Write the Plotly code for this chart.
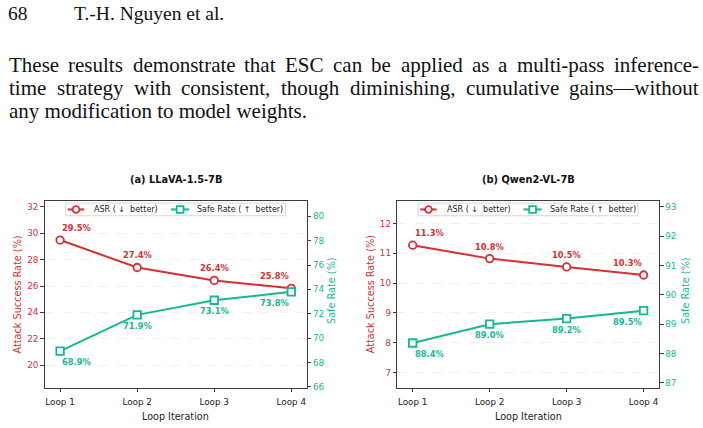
import plotly.graph_objects as go

# ---------------- data ----------------
loops = ["Loop 1", "Loop 2", "Loop 3", "Loop 4"]
llava_asr = [29.49, 27.41, 26.43, 25.83]
llava_safe = [68.93, 71.91, 73.11, 73.80]
qwen_asr = [11.27, 10.82, 10.54, 10.27]
qwen_safe = [88.36, 89.00, 89.19, 89.46]
llava_left_ticks = [20, 22, 24, 26, 28, 30, 32]
llava_right_ticks = [66, 68, 70, 72, 74, 76, 78, 80]
qwen_left_ticks = [7, 8, 9, 10, 11, 12]
qwen_right_ticks = [87, 88, 89, 90, 91, 92, 93]
panel_titles = ["(a) LLaVA-1.5-7B", "(b) Qwen2-VL-7B"]
series_names = ["ASR ( \u2193  better)", "Safe Rate ( \u2191  better)"]
page_lines = [
    "These results demonstrate that ESC can be applied as a multi-pass inference-",
    "time strategy with consistent, though diminishing, cumulative gains\u2014without",
    "any modification to model weights.",
]

# ---------------- style ----------------
W, H = 703, 428
RED = "#d62f34"
TEAL = "#14b894"
SPINE = "#3c3c3c"
SANS = "DejaVu Sans"
SERIF = "Liberation Serif"

# approximate Times/Liberation Serif advance widths (per 1000 em) for justification
TW = {' ': 250, 'T': 611, 'h': 500, 'e': 444, 's': 389, 'r': 333, 'u': 500, 'l': 278, 't': 278,
      'd': 500, 'm': 778, 'o': 500, 'n': 500, 'a': 444, 'E': 611, 'S': 556, 'C': 667, 'c': 444,
      'b': 500, 'p': 500, 'i': 278, '-': 333, 'y': 500, 'g': 500, 'w': 722, ',': 250, 'f': 333,
      '\u2014': 1000, '.': 250, 'v': 500, 'k': 500}


def px(x):
    return x / W


def py(y):
    return 1 - y / H


fig = go.Figure()

panels = [
    dict(xa="x", ya="y", ya2="y2", asr=llava_asr, safe=llava_safe,
         lt=llava_left_ticks, rt=llava_right_ticks,
         lrange=[18.29, 32.47], rrange=[65.94, 81.27],
         dom=[44.7, 306.7]),
    dict(xa="x2", ya="y3", ya2="y4", asr=qwen_asr, safe=qwen_safe,
         lt=qwen_left_ticks, rt=qwen_right_ticks,
         lrange=[6.49, 12.76], rrange=[86.84, 93.2],
         dom=[397.3, 659.0]),
]

ydom = [py(391.3), py(202.7)]
anns = []
shapes = []

for i, p in enumerate(panels):
    fig.add_trace(go.Scatter(
        x=loops, y=p["asr"], mode="lines+markers", name=series_names[0],
        line=dict(color=RED, width=2),
        marker=dict(symbol="circle", size=7.5, color="white", line=dict(color=RED, width=1.8)),
        xaxis=p["xa"], yaxis=p["ya"], showlegend=False))
    fig.add_trace(go.Scatter(
        x=loops, y=p["safe"], mode="lines+markers", name=series_names[1],
        line=dict(color=TEAL, width=2),
        marker=dict(symbol="square", size=7.5, color="white", line=dict(color=TEAL, width=1.8)),
        xaxis=p["xa"], yaxis=p["ya2"], showlegend=False))

    n = len(loops)
    for j, (cat, a, s) in enumerate(zip(loops, p["asr"], p["safe"])):
        anchor = "left" if j == 0 else ("right" if j == n - 1 else "center")
        anns.append(dict(x=cat, y=a, xref=p["xa"], yref=p["ya"], text=f"<b>{a:.1f}%</b>",
                         showarrow=False, xanchor=anchor, yanchor="middle", yshift=12,
                         font=dict(family=SANS, size=8.3, color=RED)))
        anns.append(dict(x=cat, y=s, xref=p["xa"], yref=p["ya2"], text=f"<b>{s:.1f}%</b>",
                         showarrow=False, xanchor=anchor, yanchor="middle", yshift=-11,
                         font=dict(family=SANS, size=8.3, color=TEAL)))

    xkey = "xaxis" if i == 0 else "xaxis2"
    ykey = "yaxis" if i == 0 else "yaxis3"
    y2key = "yaxis2" if i == 0 else "yaxis4"
    fig.layout[xkey] = dict(
        domain=[px(p["dom"][0]), px(p["dom"][1])], anchor=p["ya"], type="category", range=[-0.2, 3.2],
        showline=True, linecolor=SPINE, linewidth=1, mirror=True,
        ticks="outside", ticklen=3.5, tickcolor=SPINE, tickwidth=1, ticklabelstandoff=2,
        showgrid=False, zeroline=False,
        tickfont=dict(family=SANS, size=8.8, color="#222"))
    fig.layout[ykey] = dict(
        domain=ydom, anchor=p["xa"], range=p["lrange"], tickvals=p["lt"],
        showline=True, linecolor=SPINE, linewidth=1,
        ticks="outside", ticklen=3.5, tickcolor=SPINE, tickwidth=1,
        showgrid=True, gridcolor="#f0f0f0", gridwidth=0.8, griddash="dash",
        zeroline=False, tickfont=dict(family=SANS, size=8.8, color=RED))
    fig.layout[y2key] = dict(
        overlaying=p["ya"], side="right", anchor=p["xa"], range=p["rrange"], tickvals=p["rt"],
        showline=True, linecolor=SPINE, linewidth=1,
        ticks="outside", ticklen=3.5, tickcolor=SPINE, tickwidth=1,
        showgrid=False, zeroline=False, tickfont=dict(family=SANS, size=8.8, color=TEAL))

    cxp = (p["dom"][0] + p["dom"][1]) / 2
    anns.append(dict(x=px(cxp), y=py(181.5), xref="paper", yref="paper", text=f"<b>{panel_titles[i]}</b>",
                     showarrow=False, xanchor="center", yanchor="middle",
                     font=dict(family=SANS, size=9.8, color="#111")))
    anns.append(dict(x=px(cxp), y=py(420), xref="paper", yref="paper", text="Loop Iteration",
                     showarrow=False, xanchor="center", yanchor="middle",
                     font=dict(family=SANS, size=9.6, color="#222")))

    # ---- legend box (drawn in paper space, centred on the panel) ----
    ly0, ly1, lyc = 205.0, 217.8, 211.4
    shapes.append(dict(type="rect", xref="paper", yref="paper",
                       x0=px(cxp - 110), x1=px(cxp + 110), y0=py(ly1), y1=py(ly0),
                       line=dict(color="#d6d6d6", width=1), fillcolor="rgba(255,255,255,0.92)",
                       layer="above"))
    for (l0, l1, mc, col, sym, tx, name) in [(-108, -91.5, -99.7, RED, "circle", -83.5, series_names[0]),
                                             (-4.7, 13.6, 4.4, TEAL, "rect", 19.6, series_names[1])]:
        shapes.append(dict(type="line", xref="paper", yref="paper",
                           x0=px(cxp + l0), x1=px(cxp + l1), y0=py(lyc), y1=py(lyc),
                           line=dict(color=col, width=2), layer="above"))
        r = 3.4
        shapes.append(dict(type=sym, xref="paper", yref="paper",
                           x0=px(cxp + mc - r), x1=px(cxp + mc + r), y0=py(lyc + r), y1=py(lyc - r),
                           line=dict(color=col, width=1.8), fillcolor="white", layer="above"))
        anns.append(dict(x=px(cxp + tx), y=py(lyc), xref="paper", yref="paper", text=name,
                         showarrow=False, xanchor="left", yanchor="middle",
                         font=dict(family=SANS, size=8, color="#222")))

# axis titles
cy = py(297)
anns += [
    dict(x=px(17.3), y=cy, xref="paper", yref="paper", text="Attack Success Rate (%)", textangle=-90,
         showarrow=False, xanchor="center", yanchor="middle", font=dict(family=SANS, size=9.7, color=RED)),
    dict(x=px(331.7), y=py(293), xref="paper", yref="paper", text="Safe Rate (%)", textangle=-90,
         showarrow=False, xanchor="center", yanchor="middle", font=dict(family=SANS, size=9.7, color=TEAL)),
    dict(x=px(370), y=cy, xref="paper", yref="paper", text="Attack Success Rate (%)", textangle=-90,
         showarrow=False, xanchor="center", yanchor="middle", font=dict(family=SANS, size=9.7, color=RED)),
    dict(x=px(685.7), y=py(293), xref="paper", yref="paper", text="Safe Rate (%)", textangle=-90,
         showarrow=False, xanchor="center", yanchor="middle", font=dict(family=SANS, size=9.7, color=TEAL)),
]

# page header
HDR = 19.5
anns.append(dict(x=px(6), y=py(13.5), xref="paper", yref="paper", text="68", showarrow=False,
                 xanchor="left", yanchor="middle", font=dict(family=SERIF, size=HDR, color="#111")))
anns.append(dict(x=px(72), y=py(13.5), xref="paper", yref="paper", text="T.-H. Nguyen et al.", showarrow=False,
                 xanchor="left", yanchor="middle", font=dict(family=SERIF, size=HDR, color="#111")))

# page paragraph (first two lines justified word by word)
BODY = 21
LEFT, RIGHT = 7, 697


def wwidth(word, size):
    return sum(TW.get(ch, 500) for ch in word) * size / 1000


for k, line in enumerate(page_lines):
    yv = py(65.5 + 23.3 * k)
    if k < len(page_lines) - 1:
        words = line.split(" ")
        widths = [wwidth(w_, BODY) for w_ in words]
        gap = (RIGHT - LEFT - sum(widths)) / (len(words) - 1)
        xcur = LEFT
        for w_, ww in zip(words, widths):
            anns.append(dict(x=px(xcur), y=yv, xref="paper", yref="paper", text=w_, showarrow=False,
                             xanchor="left", yanchor="middle",
                             font=dict(family=SERIF, size=BODY, color="#111")))
            xcur += ww + gap
    else:
        anns.append(dict(x=px(LEFT), y=yv, xref="paper", yref="paper", text=line, showarrow=False,
                         xanchor="left", yanchor="middle",
                         font=dict(family=SERIF, size=BODY, color="#111")))

fig.update_layout(
    width=W, height=H, margin=dict(l=0, r=0, t=0, b=0),
    paper_bgcolor="white", plot_bgcolor="white",
    annotations=anns, shapes=shapes, showlegend=False,
)

fig.write_html("out.html")
